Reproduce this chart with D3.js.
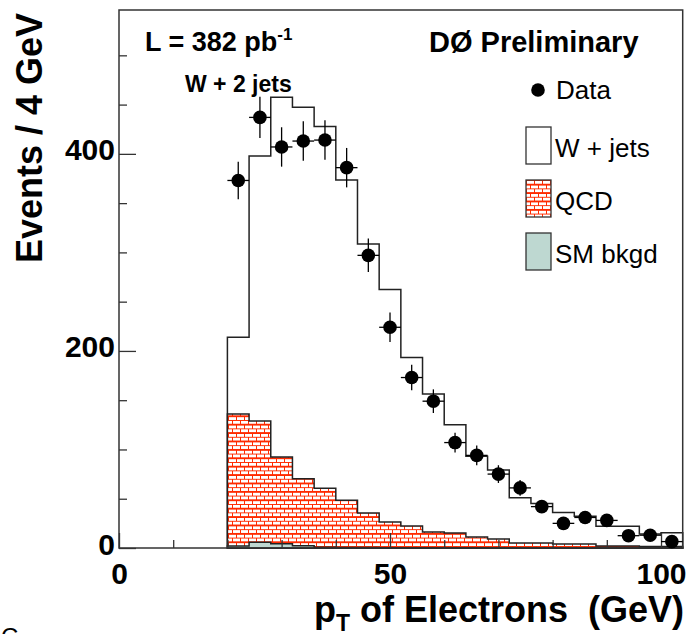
<!DOCTYPE html>
<html>
<head>
<meta charset="utf-8">
<script src="https://cdn.jsdelivr.net/npm/d3@7"></script>
<style>
    body { margin: 0; background: #ffffff; }
    svg { display: block; }
    text { font-family: 'Liberation Sans', Arial, Helvetica, sans-serif; }
</style>
</head>
<body>
<script>

// bin low edges (GeV), 4 GeV wide
var binEdges = [20, 24, 28, 32, 36, 40, 44, 48, 52, 56, 60, 64, 68, 72, 76, 80, 84, 88, 92, 96, 100, 104];

// stacked components, bottom to top
var smBkgd = [2, 5.8, 4.4, 2.4, 0.7, 0.5, 0.4, 0.3, 0.3, 0.2, 0.2, 0.2, 0.1, 0.1, 0.1, 0.1, 0.1, 0.1, 0.1, 0.1, 0.1];
var qcd = [134, 123, 88, 68, 60, 48, 35, 26, 22, 16, 15, 11, 9, 5, 5, 4, 4, 2, 2, 1.5, 1.5];
var wJets = [78, 269, 365, 377, 367, 325, 273, 236, 171, 140, 110, 82, 70, 46, 40, 32, 28, 20, 20, 12.5, 14];

// data points at bin centres
var dataVals = [373, 437, 407, 413, 414, 386, 297, 224, 173, 149, 107, 94, 75, 61, 42, 25, 31, 28, 12.5, 13, 6.5];
var dataErr = [19, 21, 20, 20, 20, 20, 17, 15, 13, 12, 10, 10, 9, 8, 6.5, 5, 5.5, 5.3, 3.5, 3.6, 2.5];

var xMajorTicks = [0, 50, 100];
var xMinorTicks = [10, 20, 30, 40, 60, 70, 80, 90];
var yMajorTicks = [0, 200, 400];
var yMinorTicks = [50, 100, 150, 250, 300, 350, 450, 500];

var legendItems = [
    { text: 'W + jets', kind: 'wjets' },
    { text: 'QCD', kind: 'qcd' },
    { text: 'SM bkgd', kind: 'sm' }
];

var width = 686,
    height = 634,
    frameLeft = 119,
    frameRight = 682.7,
    frameTop = 10,
    frameBottom = 548,
    bold = 'bold',
    brickRed = '#ff2a00',
    smColor = '#bed8d1',
    lineColor = '#222222';

var x = d3.scaleLinear().domain([0, 104]).range([frameLeft, frameRight]);
var y = d3.scaleLinear().domain([0, 546]).range([frameBottom, frameTop]);

var svg = d3.select('body')
    .append('svg')
    .attr('width', width)
    .attr('height', height);

// brick hatch like the ROOT fill style
var defs = svg.append('defs');
var brick = defs.append('pattern')
    .attr('id', 'bricks')
    .attr('patternUnits', 'userSpaceOnUse')
    .attr('width', 8)
    .attr('height', 8.4);
brick.append('rect')
    .attr('width', 8)
    .attr('height', 8.4)
    .attr('fill', '#ffffff');
brick.append('path')
    .attr('d', 'M0,0.5 H8 M0,4.7 H8 M0.5,0.5 V4.7 M4.5,4.7 V8.4')
    .attr('stroke', brickRed)
    .attr('stroke-width', 1.2)
    .attr('fill', 'none')
    .attr('shape-rendering', 'crispEdges');

// stack the components
var rows = wJets.map(function(d, i) {
    return { edge: binEdges[i], sm: smBkgd[i], qcd: qcd[i], wjets: wJets[i] };
});
// repeat last bin so the step closes on the high edge
rows.push({ edge: binEdges[binEdges.length - 1], sm: smBkgd[smBkgd.length - 1], qcd: qcd[qcd.length - 1], wjets: wJets[wJets.length - 1] });

var stack = d3.stack().keys(['sm', 'qcd', 'wjets']);
var layers = stack(rows);

var area = d3.area()
    .curve(d3.curveStepAfter)
    .x(function(d) { return x(d.data.edge); })
    .y0(function() { return y(0); })
    .y1(function(d) { return y(d[1]); });

var fills = { sm: smColor, qcd: 'url(#bricks)', wjets: '#ffffff' };

// draw top of stack first so lower layers sit over it
layers.slice().reverse().forEach(function(layer) {
    svg.append('path')
        .datum(layer)
        .attr('d', area)
        .attr('fill', fills[layer.key])
        .attr('stroke', lineColor)
        .attr('stroke-width', 1.5);
});

// frame
svg.append('rect')
    .attr('x', frameLeft)
    .attr('y', frameTop)
    .attr('width', frameRight - frameLeft)
    .attr('height', frameBottom - frameTop)
    .attr('fill', 'none')
    .attr('stroke', '#333333')
    .attr('stroke-width', 1.5);

// axes, ticks drawn inside the frame
var yAxis = svg.append('g')
    .attr('transform', 'translate(' + frameLeft + ',0)')
    .call(d3.axisLeft(y).tickValues(yMajorTicks).tickSize(-17).tickPadding(4));
svg.append('g')
    .attr('transform', 'translate(' + frameLeft + ',0)')
    .call(d3.axisLeft(y).tickValues(yMinorTicks).tickSize(-8).tickFormat(''));

var xAxis = svg.append('g')
    .attr('transform', 'translate(0,' + frameBottom + ')')
    .call(d3.axisBottom(x).tickValues(xMajorTicks).tickSize(-15).tickPadding(15));
svg.append('g')
    .attr('transform', 'translate(0,' + frameBottom + ')')
    .call(d3.axisBottom(x).tickValues(xMinorTicks).tickSize(-8).tickFormat(''));

svg.selectAll('.domain').remove();
svg.selectAll('.tick line')
    .attr('stroke', '#333333')
    .attr('stroke-width', 1.3);

yAxis.selectAll('text')
    .attr('dy', '0.2em')
    .attr('font-size', '30px')
    .attr('font-weight', bold)
    .attr('fill', '#000000');
xAxis.selectAll('text')
    .attr('font-size', '30px')
    .attr('font-weight', bold)
    .attr('fill', '#000000');
svg.selectAll('.tick text').style('font-family', "'Liberation Sans', Arial, sans-serif");

// data points with error bars
var pts = svg.append('g')
    .selectAll('g')
    .data(dataVals)
    .enter()
    .append('g');

pts.append('line')
    .attr('x1', function(d, i) { return x(binEdges[i]); })
    .attr('x2', function(d, i) { return x(binEdges[i + 1]); })
    .attr('y1', function(d) { return y(d); })
    .attr('y2', function(d) { return y(d); })
    .attr('stroke', '#000000')
    .attr('stroke-width', 1.3);

pts.append('line')
    .attr('x1', function(d, i) { return x((binEdges[i] + binEdges[i + 1]) / 2); })
    .attr('x2', function(d, i) { return x((binEdges[i] + binEdges[i + 1]) / 2); })
    .attr('y1', function(d, i) { return y(d - dataErr[i]); })
    .attr('y2', function(d, i) { return y(d + dataErr[i]); })
    .attr('stroke', '#000000')
    .attr('stroke-width', 1.3);

pts.append('circle')
    .attr('cx', function(d, i) { return x((binEdges[i] + binEdges[i + 1]) / 2); })
    .attr('cy', function(d) { return y(d); })
    .attr('r', 6.8)
    .attr('fill', '#000000');

// labels inside the frame
var lumi = svg.append('text')
    .attr('x', 145)
    .attr('y', 51)
    .attr('font-size', '27px')
    .attr('font-weight', bold);
lumi.append('tspan').text('L = 382 pb');
lumi.append('tspan')
    .attr('font-size', '17px')
    .attr('dy', -11)
    .text('-1');

svg.append('text')
    .attr('x', 185)
    .attr('y', 92)
    .attr('font-size', '23px')
    .attr('font-weight', bold)
    .text('W + 2 jets');

svg.append('text')
    .attr('x', 429)
    .attr('y', 52)
    .attr('font-size', '29px')
    .attr('font-weight', bold)
    .text('DØ Preliminary');

// legend
svg.append('circle')
    .attr('cx', 538)
    .attr('cy', 90)
    .attr('r', 6.8)
    .attr('fill', '#000000');
svg.append('text')
    .attr('x', 556)
    .attr('y', 99)
    .attr('font-size', '26px')
    .text('Data');

var leg = svg.append('g')
    .selectAll('g')
    .data(legendItems)
    .enter()
    .append('g')
    .attr('transform', function(d, i) {
        return 'translate(526,' + (127 + i * 53) + ')';
    });

leg.append('rect')
    .attr('width', 25)
    .attr('height', 37)
    .attr('fill', function(d) { return fills[d.kind]; })
    .attr('stroke', '#333333')
    .attr('stroke-width', 1.3);

leg.append('text')
    .attr('x', 29)
    .attr('y', 30)
    .attr('font-size', '26px')
    .text(function(d) { return d.text; });

// axis titles
svg.append('text')
    .attr('transform', 'translate(42,138) rotate(-90)')
    .attr('text-anchor', 'middle')
    .attr('font-size', '36px')
    .attr('font-weight', bold)
    .text('Events / 4 GeV');

var xTitle = svg.append('text')
    .attr('x', 684)
    .attr('y', 622)
    .attr('text-anchor', 'end')
    .attr('font-size', '36px')
    .attr('font-weight', bold)
    .style('white-space', 'pre');
xTitle.append('tspan').text('p');
xTitle.append('tspan')
    .attr('font-size', '23px')
    .attr('dy', 9)
    .text('T');
xTitle.append('tspan')
    .attr('dy', -9)
    .text(' of Electrons  (GeV)');

// clipped letter at the lower left edge
svg.append('text')
    .attr('x', 1)
    .attr('y', 645)
    .attr('font-size', '24px')
    .text('C');

</script>
</body>
</html>
